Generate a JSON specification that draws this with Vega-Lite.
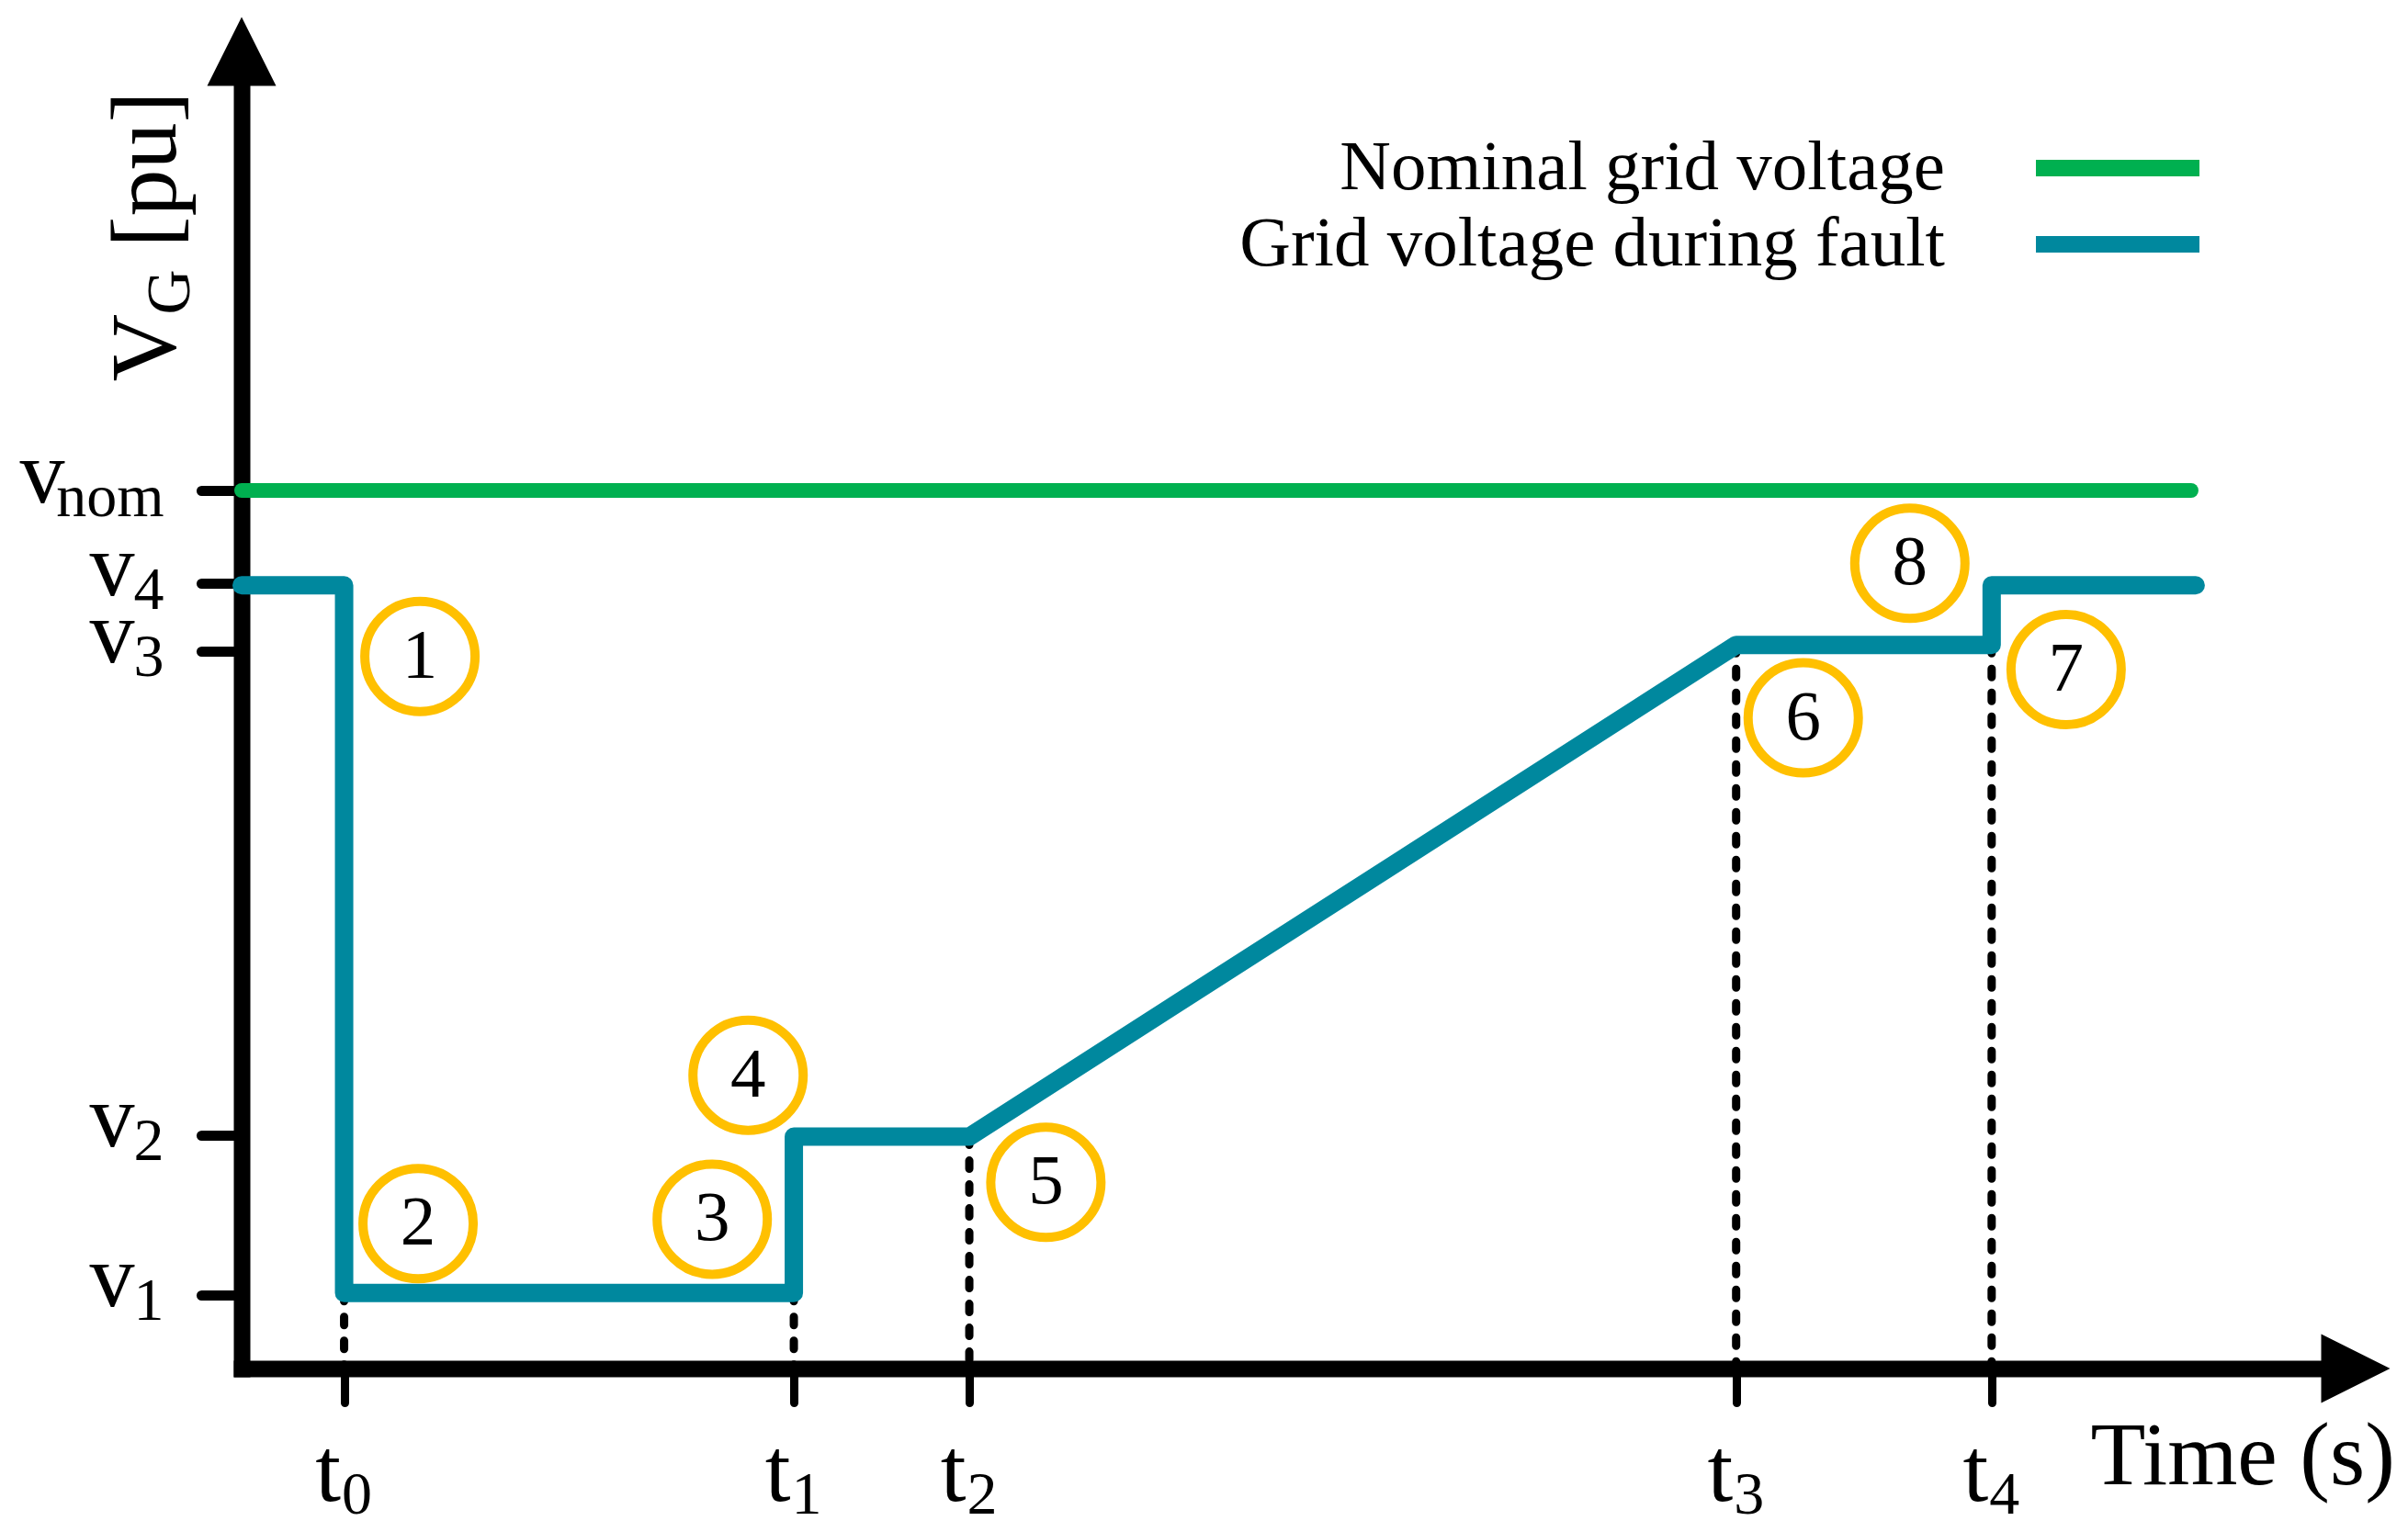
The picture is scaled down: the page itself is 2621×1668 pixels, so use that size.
{
  "$schema": "https://vega.github.io/schema/vega-lite/v6.json",
  "width": 2301,
  "height": 1434,
  "autosize": {"type": "none"},
  "padding": {"left": 263, "top": 56, "right": 57, "bottom": 178},
  "background": "white",
  "config": {
    "view": {"stroke": null},
    "axis": {
      "grid": false,
      "zindex": 1,
      "labelFont": "Liberation Serif",
      "titleFont": "Liberation Serif",
      "labelColor": "black",
      "titleColor": "black",
      "tickColor": "black",
      "domainColor": "black",
      "titleFontWeight": "normal",
      "labelOverlap": false,
      "labelFlush": false,
      "labelBound": false
    }
  },
  "datasets": {
    "lines": [
      {"series": "Nominal grid voltage", "t": 0, "v": 1.0, "ord": 1},
      {"series": "Nominal grid voltage", "t": 212.1, "v": 1.0, "ord": 2},
      {"series": "Grid voltage during fault", "t": 0, "v": 0.892, "ord": 1},
      {"series": "Grid voltage during fault", "t": 11.15, "v": 0.892, "ord": 2},
      {"series": "Grid voltage during fault", "t": 11.15, "v": 0.086, "ord": 3},
      {"series": "Grid voltage during fault", "t": 60.08, "v": 0.086, "ord": 4},
      {"series": "Grid voltage during fault", "t": 60.08, "v": 0.264, "ord": 5},
      {"series": "Grid voltage during fault", "t": 79.17, "v": 0.264, "ord": 6},
      {"series": "Grid voltage during fault", "t": 162.6, "v": 0.824, "ord": 7},
      {"series": "Grid voltage during fault", "t": 190.4, "v": 0.824, "ord": 8},
      {"series": "Grid voltage during fault", "t": 190.4, "v": 0.892, "ord": 9},
      {"series": "Grid voltage during fault", "t": 212.6, "v": 0.892, "ord": 10}
    ],
    "cuts": [
      {"name": "t0", "t": 11.15, "v": 0.086},
      {"name": "t1", "t": 60.08, "v": 0.086},
      {"name": "t2", "t": 79.17, "v": 0.264},
      {"name": "t3", "t": 162.6, "v": 0.824},
      {"name": "t4", "t": 190.4, "v": 0.824}
    ],
    "stages": [
      {"n": "1", "t": 19.4, "v": 0.811},
      {"n": "2", "t": 19.2, "v": 0.165},
      {"n": "3", "t": 51.2, "v": 0.17},
      {"n": "4", "t": 55.1, "v": 0.334},
      {"n": "5", "t": 87.5, "v": 0.212},
      {"n": "6", "t": 169.9, "v": 0.741},
      {"n": "7", "t": 198.5, "v": 0.796},
      {"n": "8", "t": 181.5, "v": 0.917}
    ],
    "arrows": [
      {"dir": "up", "t": 0, "v": 1.5},
      {"dir": "right", "t": 230, "v": 0}
    ]
  },
  "layer": [
    {
      "data": {"name": "cuts"},
      "mark": {"type": "rule", "strokeWidth": 9, "strokeDash": [9, 17], "strokeCap": "round", "color": "black"},
      "encoding": {
        "x": {
          "field": "t", "type": "quantitative",
          "scale": {"domain": [0, 230], "nice": false, "zero": false},
          "axis": {
            "orient": "bottom",
            "values": [11.15, 60.08, 79.17, 162.6, 190.4],
            "labelExpr": "'t'",
            "labelFontSize": 100,
            "labelAlign": "right",
            "labelBaseline": "alphabetic",
            "labelOffset": -4,
            "labelPadding": 106,
            "tickSize": 37,
            "tickWidth": 9,
            "tickCap": "round",
            "domain": true,
            "domainWidth": 18,
            "domainCap": "square",
            "title": "Time (s)",
            "titleFontSize": 98,
            "titleX": 2012,
            "titleY": 125,
            "titleAlign": "left",
            "titleBaseline": "alphabetic",
            "titleAngle": 0
          }
        },
        "y": {
          "field": "v", "type": "quantitative",
          "scale": {"domain": [0, 1.5], "nice": false, "zero": false},
          "axis": {
            "orient": "left",
            "values": [0.084, 0.266, 0.817, 0.894, 1.0],
            "labelExpr": "'v'",
            "labelFontSize": 98,
            "labelAlign": "right",
            "labelBaseline": "alphabetic",
            "labelOffset": 12,
            "labelPadding": {"condition": {"test": "datum.value > 0.95", "value": 149}, "value": 73},
            "tickSize": 44,
            "tickWidth": 11,
            "tickCap": "round",
            "domain": true,
            "domainWidth": 18,
            "domainCap": "square",
            "title": "V",
            "titleFontSize": 102,
            "titleX": -73,
            "titleY": 359,
            "titleAngle": 270,
            "titleAlign": "left",
            "titleBaseline": "alphabetic"
          }
        },
        "y2": {"datum": 0}
      }
    },
    {
      "data": {"name": "lines"},
      "transform": [{"filter": "datum.series == 'Nominal grid voltage'"}],
      "mark": {"type": "line", "strokeWidth": 16, "strokeCap": "round", "strokeJoin": "round"},
      "encoding": {
        "x": {
          "field": "t", "type": "quantitative",
          "scale": {"domain": [0, 230], "nice": false, "zero": false},
          "axis": {
            "orient": "bottom",
            "values": [11.15, 60.08, 79.17, 162.6, 190.4],
            "labelExpr": "datum.value < 30 ? '0' : datum.value < 70 ? '1' : datum.value < 100 ? '2' : datum.value < 175 ? '3' : '4'",
            "labelFontSize": 66,
            "labelAlign": "left",
            "labelBaseline": "alphabetic",
            "labelOffset": -3,
            "labelPadding": 120,
            "tickSize": 37,
            "tickOpacity": 0,
            "domain": false,
            "title": null
          }
        },
        "y": {
          "field": "v", "type": "quantitative",
          "scale": {"domain": [0, 1.5], "nice": false, "zero": false},
          "axis": {
            "orient": "left",
            "values": [0.084, 0.266, 0.817, 0.894, 1.0],
            "labelExpr": "datum.value > 0.95 ? 'nom' : datum.value > 0.85 ? '4' : datum.value > 0.5 ? '3' : datum.value > 0.2 ? '2' : '1'",
            "labelFontSize": 66,
            "labelAlign": "right",
            "labelBaseline": "alphabetic",
            "labelOffset": 27,
            "labelPadding": 41,
            "tickSize": 44,
            "tickOpacity": 0,
            "domain": false,
            "title": "G",
            "titleFontSize": 68,
            "titleX": -58,
            "titleY": 286,
            "titleAngle": 270,
            "titleAlign": "left",
            "titleBaseline": "alphabetic"
          }
        },
        "order": {"field": "ord", "type": "quantitative"},
        "color": {
          "field": "series", "type": "nominal",
          "scale": {"domain": ["Nominal grid voltage", "Grid voltage during fault"], "range": ["#00B050", "#00889E"]},
          "legend": {
            "orient": "none",
            "legendX": 2003.5,
            "legendY": 88.5,
            "title": null,
            "padding": 0,
            "symbolType": "M-4.45,0L4.45,0",
            "symbolSize": 1600,
            "symbolStrokeWidth": 18,
            "labelFont": "Liberation Serif",
            "labelFontSize": 77,
            "labelColor": "black",
            "labelAlign": "right",
            "labelBaseline": "middle",
            "labelOffset": -226.5,
            "labelLimit": 1000,
            "rowPadding": 5
          }
        }
      }
    },
    {
      "data": {"name": "lines"},
      "transform": [{"filter": "datum.series == 'Grid voltage during fault'"}],
      "mark": {"type": "line", "strokeWidth": 20, "strokeCap": "round", "strokeJoin": "round"},
      "encoding": {
        "x": {"field": "t", "type": "quantitative", "scale": {"domain": [0, 230], "nice": false, "zero": false}, "axis": null},
        "y": {
          "field": "v", "type": "quantitative",
          "scale": {"domain": [0, 1.5], "nice": false, "zero": false},
          "axis": {
            "orient": "left",
            "labels": false,
            "ticks": false,
            "domain": false,
            "title": "[pu]",
            "titleFontSize": 102,
            "titleX": -73,
            "titleY": 213,
            "titleAngle": 270,
            "titleAlign": "left",
            "titleBaseline": "alphabetic"
          }
        },
        "order": {"field": "ord", "type": "quantitative"},
        "color": {
          "field": "series", "type": "nominal",
          "scale": {"domain": ["Nominal grid voltage", "Grid voltage during fault"], "range": ["#00B050", "#00889E"]},
          "legend": {
            "orient": "none",
            "legendX": 2003.5,
            "legendY": 88.5,
            "title": null,
            "padding": 0,
            "symbolType": "M-4.45,0L4.45,0",
            "symbolSize": 1600,
            "symbolStrokeWidth": 18,
            "labelFont": "Liberation Serif",
            "labelFontSize": 77,
            "labelColor": "black",
            "labelAlign": "right",
            "labelBaseline": "middle",
            "labelOffset": -226.5,
            "labelLimit": 1000,
            "rowPadding": 5
          }
        }
      }
    },
    {
      "data": {"name": "stages"},
      "mark": {"type": "point", "shape": "circle", "filled": false, "size": 14400, "stroke": "#FFC000", "strokeWidth": 10, "opacity": 1},
      "encoding": {
        "x": {"field": "t", "type": "quantitative", "axis": null},
        "y": {"field": "v", "type": "quantitative", "axis": null}
      }
    },
    {
      "data": {"name": "stages"},
      "mark": {"type": "text", "font": "Liberation Serif", "fontSize": 77, "color": "black", "align": "center", "baseline": "middle"},
      "encoding": {
        "x": {"field": "t", "type": "quantitative", "axis": null},
        "y": {"field": "v", "type": "quantitative", "axis": null},
        "text": {"field": "n", "type": "nominal"}
      }
    },
    {
      "data": {"name": "arrows"},
      "transform": [{"filter": "datum.dir == 'up'"}],
      "mark": {"type": "point", "shape": "M0,-1L1,1L-1,1Z", "size": 5625, "filled": true, "color": "black", "opacity": 1, "strokeWidth": 0},
      "encoding": {
        "x": {"field": "t", "type": "quantitative", "axis": null},
        "y": {"field": "v", "type": "quantitative", "axis": null}
      }
    },
    {
      "data": {"name": "arrows"},
      "transform": [{"filter": "datum.dir == 'right'"}],
      "mark": {"type": "point", "shape": "M1,0L-1,1L-1,-1Z", "size": 5625, "filled": true, "color": "black", "opacity": 1, "strokeWidth": 0},
      "encoding": {
        "x": {"field": "t", "type": "quantitative", "axis": null},
        "y": {"field": "v", "type": "quantitative", "axis": null}
      }
    }
  ],
  "resolve": {"axis": {"x": "independent", "y": "independent"}}
}
